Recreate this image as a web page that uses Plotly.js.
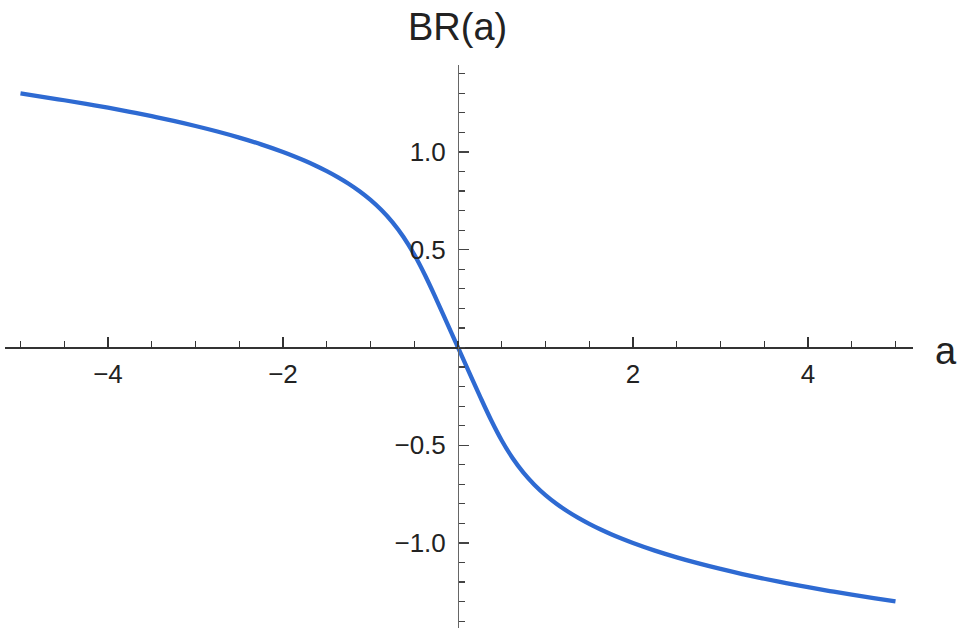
<!DOCTYPE html>
<html>
<head>
<meta charset="utf-8">
<script src="https://cdn.plot.ly/plotly-3.0.1.min.js"></script>
<style>html,body{margin:0;padding:0;background:#fff;}#chart{width:960px;height:632px;}</style>
</head>
<body>
<div id="chart"></div>
<script>
var aValues = [-5, -4.75, -4.5, -4.25, -4, -3.75, -3.5, -3.25, -3, -2.75, -2.5, -2.25,
               -2, -1.875, -1.75, -1.625, -1.5, -1.375, -1.25, -1.125, -1, -0.875, -0.75, -0.625, -0.5, -0.375, -0.25, -0.125, 0,
               0.125, 0.25, 0.375, 0.5, 0.625, 0.75, 0.875, 1, 1.125, 1.25, 1.375, 1.5, 1.625, 1.75, 1.875, 2,
               2.25, 2.5, 2.75, 3, 3.25, 3.5, 3.75, 4, 4.25, 4.5, 4.75, 5];
var brValues = [1.2994, 1.2824, 1.2647, 1.2461, 1.2264, 1.2054, 1.1830, 1.1590, 1.1330, 1.1047, 1.0736, 1.0391,
                1.0000, 0.9784, 0.9552, 0.9299, 0.9022, 0.8717, 0.8377, 0.7991, 0.7549, 0.7031, 0.6414, 0.5666, 0.4756, 0.3682, 0.2490, 0.1250, 0,
                -0.1250, -0.2490, -0.3682, -0.4756, -0.5666, -0.6414, -0.7031, -0.7549, -0.7991, -0.8377, -0.8717, -0.9022, -0.9299, -0.9552, -0.9784, -1.0000,
                -1.0391, -1.0736, -1.1047, -1.1330, -1.1590, -1.1830, -1.2054, -1.2264, -1.2461, -1.2647, -1.2824, -1.2994];
var xTickVals = [-4, -2, 2, 4];
var xTickText = ['\u22124', '\u22122', '2', '4'];
var yTickVals = [-1.0, -0.5, 0.5, 1.0];
var yTickText = ['\u22121.0', '\u22120.5', '0.5', '1.0'];
var xTitle = 'a';
var yTitle = 'BR(a)';

var xRange = [-5.177, 5.2];
var yRange = [-1.435, 1.445];

var trace = {
  x: aValues, y: brValues, type: 'scatter', mode: 'lines',
  line: {color: '#2E6AD2', width: 4.3, shape: 'spline', smoothing: 1},
  hoverinfo: 'skip'
};

var fontFam = 'Liberation Sans, Arial, sans-serif';
var layout = {
  width: 960, height: 632,
  margin: {l: 5, r: 47, t: 65, b: 4, pad: 0},
  paper_bgcolor: '#ffffff', plot_bgcolor: '#ffffff',
  showlegend: false,
  xaxis: {
    range: xRange, anchor: 'free', position: (0 - yRange[0]) / (yRange[1] - yRange[0]),
    showgrid: false, zeroline: false, showline: true, linecolor: '#333333', linewidth: 1.3,
    tickmode: 'array', tickvals: xTickVals, ticktext: xTickText,
    ticks: 'inside', ticklen: 10, tickwidth: 1.3, tickcolor: '#333333',
    ticklabelstandoff: 3,
    tickfont: {family: fontFam, size: 26, color: '#222222'},
    minor: {tickmode: 'linear', tick0: 0, dtick: 0.5, ticks: 'inside', ticklen: 6, tickwidth: 1.2, tickcolor: '#333333', showgrid: false}
  },
  yaxis: {
    range: yRange, anchor: 'free', position: (0 - xRange[0]) / (xRange[1] - xRange[0]),
    showgrid: false, zeroline: false, showline: true, linecolor: '#666666', linewidth: 1.5,
    tickmode: 'array', tickvals: yTickVals, ticktext: yTickText,
    ticks: 'inside', ticklen: 10, tickwidth: 1.3, tickcolor: '#444444',
    ticklabelstandoff: 7,
    tickfont: {family: fontFam, size: 26, color: '#222222'},
    minor: {tickmode: 'linear', tick0: 0, dtick: 0.1, ticks: 'inside', ticklen: 6, tickwidth: 1.2, tickcolor: '#444444', showgrid: false}
  },
  annotations: [
    {text: yTitle, xref: 'x', x: 0, yref: 'paper', y: 1, xanchor: 'center', yanchor: 'middle', yshift: 38,
     showarrow: false, font: {family: fontFam, size: 38, color: '#222222'}},
    {text: xTitle, xref: 'paper', x: 1, yref: 'y', y: 0, xanchor: 'center', yanchor: 'middle', xshift: 33, yshift: -4,
     showarrow: false, font: {family: fontFam, size: 38, color: '#222222'}}
  ]
};

Plotly.newPlot('chart', [trace], layout, {staticPlot: true, displayModeBar: false});
</script>
</body>
</html>
